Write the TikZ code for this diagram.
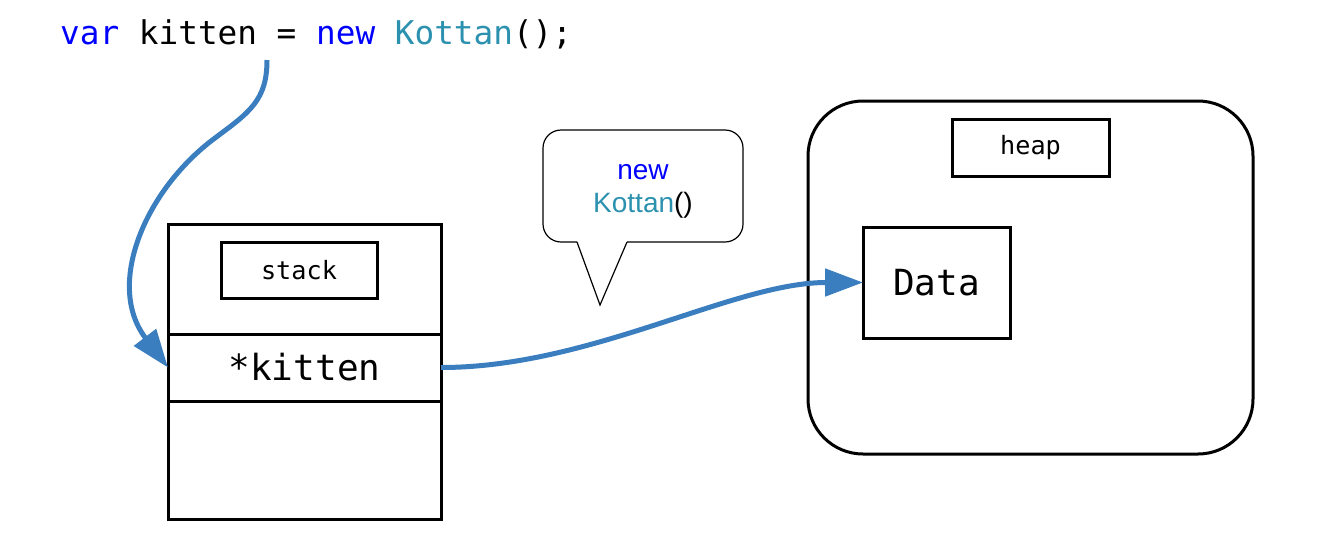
\documentclass[tikz,border=0pt]{standalone}
\usepackage{fontspec}
\setmainfont{Liberation Sans}
\newfontfamily\codigo{DejaVu Sans Mono}
\usetikzlibrary{positioning,arrows.meta}
\definecolor{azul}{HTML}{0000FF}
\definecolor{tipo}{HTML}{2B91AF}
\definecolor{flecha}{HTML}{3A7EBF}
\tikzset{
	caja/.style={draw,line width=3pt,inner sep=0pt,outer sep=0pt},
	rotulo/.style={caja,minimum width=156pt,minimum height=56pt,font=\codigo\fontsize{25.2}{28}\selectfont},
	flechita/.style={flecha,line width=5pt,-{Triangle[length=38pt,width=27pt]}}
}
\begin{document}
\begin{tikzpicture}[x=1pt,y=-1pt]
	\useasboundingbox (0,0) rectangle (1340,555);
	% la linea de codigo
	\node[anchor=base west,inner sep=0pt,font=\codigo\fontsize{32.7}{36}\selectfont] (codigo) at (60,44) 
	{\textcolor{azul}{var} kitten = \textcolor{azul}{new} \textcolor{tipo}{Kottan}();};
	\coordinate (origen) at (267,60);
	% pila
	\node[caja,minimum width=273pt,minimum height=110pt] (pilatop) at (304.5,279) {};
	\node[caja,minimum width=273pt,minimum height=67pt,below=0pt of pilatop,
		font=\codigo\fontsize{36}{40}\selectfont] (puntero) {\raisebox{-2pt}{*kitten}};
	\node[caja,minimum width=273pt,minimum height=118pt,below=0pt of puntero] (pilabot) {};
	\node[rotulo] (pilalbl) at (299,270) {stack};
	% monticulo
	\node[caja,rounded corners=55pt,minimum width=445pt,minimum height=353pt] (monticulo) at (1030.5,277.5) {};
	\node[rotulo,minimum width=157pt,minimum height=57pt] (montlbl) at (1030.5,148) {\raisebox{-2pt}{heap}};
	\node[caja,minimum width=147pt,minimum height=111pt,font=\codigo\fontsize{36}{40}\selectfont] (datos) at (936.5,282.5) {\raisebox{-2pt}{Data}};
	% globo
	\draw[line width=1.2pt,rounded corners=18pt] (577,242) -- (543,242) -- (543,130) -- (743,130) -- (743,242) -- (627,242);
	\draw[line width=1.2pt,line join=miter] (577,242) -- (600,305) -- (627,242);
	\node[align=center,inner sep=0pt,font=\fontsize{28}{33}\selectfont] (globo) at (643,191) 
	{\textcolor{azul}{new}\\\textcolor{tipo}{Kottan}()};
	% flechas
	\draw[flechita] (origen) .. controls (267,100) and (250,112) .. (215,138) 
		.. controls (145,190) and (105,285) .. (puntero.west);
	\draw[flechita] (puntero.east) .. controls +(150,0) and +(-130,0) .. (datos.west);
\end{tikzpicture}
\end{document}
